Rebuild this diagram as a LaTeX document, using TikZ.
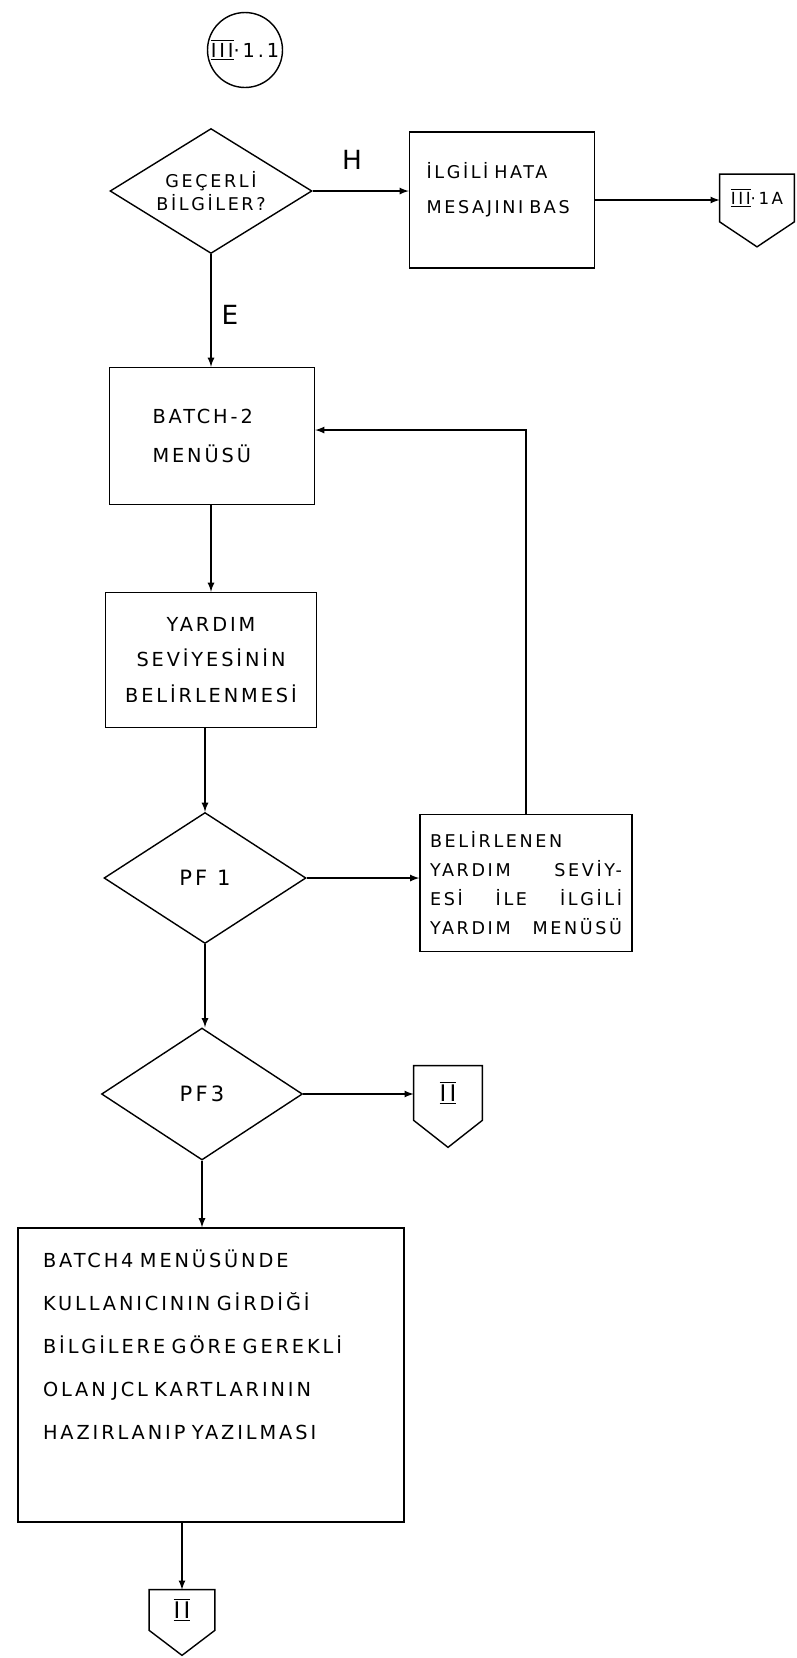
\documentclass[tikz,border=0pt]{standalone}
\usepackage{fontspec}
\setmainfont{DejaVu Sans}[LetterSpace=15]
\usetikzlibrary{shapes.geometric}

% roman numeral with bars above and below
\newcommand{\rn}[1]{$\overline{\underline{\mbox{#1}}}$}
% off-page connector: outline round the (undrawn) node, point below it
\newcommand{\pentagon}[2]{\draw[thick] (#1.south west) |- (#1.north east) -- (#1.south east) -- ([yshift=-#2]#1.south) -- cycle;}

\tikzset{
  >=latex,
  every node/.style={font=\fontsize{11}{22}\selectfont},
  box/.style={draw, thick, rectangle, align=left, inner ysep=0pt},
  decision/.style={draw, thick, diamond, aspect=1.55, align=center, inner sep=0pt},
  offpage/.style={rectangle, inner sep=0pt},
  connector/.style={draw, thick, circle, inner sep=0pt},
  label/.style={font=\fontsize{15}{15}\selectfont},
}

\begin{document}
\begin{tikzpicture}[x=0.02cm, y=-0.02cm]
\useasboundingbox (0,0) rectangle (796,1658);

\node[connector, minimum size=1.5cm] (start) at (245,50) {\rn{III}·1.1};
\node[decision, minimum width=4.04cm, minimum height=2.5cm, font=\fontsize{10}{13}\selectfont] (valid) at (211,191) {GEÇERLİ\\BİLGİLER?};
\node[box, minimum height=2.72cm, text width=3.02cm, inner xsep=0.34cm, text depth=1.2cm, font=\fontsize{10}{20}\selectfont] (error) at (502,200) {İLGİLİ HATA\\MESAJINI BAS};
\node[offpage, minimum width=1.48cm, minimum height=0.94cm, font=\fontsize{9.5}{9.5}\selectfont] (toA) at (757,198) {\rn{III}·1A};
\pentagon{toA}{0.5cm}
\node[label] (hlabel) at (352,160) {H};
\node[label] (elabel) at (230,315) {E};

\draw[thick,->] (valid.east) -- (valid.east -| error.west);
\draw[thick,->] (error.east) -- (error.east -| toA.west);

\node[box, minimum height=2.74cm, text width=2.38cm, inner xsep=0.86cm, font=\fontsize{11}{22}\selectfont] (batch2) at (212,436) {BATCH-2\\MENÜSÜ};
\draw[thick,->] (valid.south) -- (valid.south |- batch2.north);

\node[box, align=center, minimum width=4.22cm, minimum height=2.7cm, font=\fontsize{11}{20}\selectfont] (helplevel) at (211,660) {YARDIM\\SEVİYESİNİN\\BELİRLENMESİ};
\draw[thick,->] (batch2.south -| helplevel.north) -- (helplevel.north);

\node[decision, minimum width=4.04cm, minimum height=2.62cm, font=\fontsize{12}{12}\selectfont] (pfone) at (205,878) {PF 1};
\draw[thick,->] (helplevel.south -| pfone.north) -- (pfone.north);

\node[box, minimum height=2.74cm, text width=3.84cm, inner xsep=0.2cm, font=\fontsize{10}{16.5}\selectfont] (helpmenu) at (526,883) {BELİRLENEN\\YARDIM \hfill SEVİY-\\ESİ \hfill İLE \hfill İLGİLİ\\YARDIM \hfill MENÜSÜ};
\draw[thick,->] (pfone.east) -- (pfone.east -| helpmenu.west);
\draw[thick,->] (helpmenu.north) |- ([yshift=0.12cm]batch2.east);

\node[decision, minimum width=4.02cm, minimum height=2.64cm, font=\fontsize{12}{12}\selectfont] (pfthree) at (202,1094) {PF3};
\draw[thick,->] (pfone.south) -- (pfone.south |- pfthree.north);
\node[offpage, minimum width=1.36cm, minimum height=1.08cm, font=\fontsize{13}{13}\selectfont] (toII) at (448,1093) {\rn{II}};
\pentagon{toII}{0.54cm}
\draw[thick,->] (pfthree.east) -- (pfthree.east -| toII.west);

\node[box, minimum height=5.88cm, text width=6.72cm, inner xsep=0.5cm, text depth=4.64cm, font=\fontsize{11}{24.4}\selectfont] (jcl) at (211,1375) {BATCH4 MENÜSÜNDE\\KULLANICININ GİRDİĞİ\\BİLGİLERE GÖRE GEREKLİ\\OLAN JCL KARTLARININ\\HAZIRLANIP YAZILMASI};
\draw[thick,->] (pfthree.south) -- (pfthree.south |- jcl.north);

\node[offpage, minimum width=1.3cm, minimum height=0.8cm, font=\fontsize{13}{13}\selectfont] (toIIb) at (182,1610) {\rn{II}};
\pentagon{toIIb}{0.5cm}
\draw[thick,->] (toIIb.north |- jcl.south) -- (toIIb.north);
\end{tikzpicture}
\end{document}
